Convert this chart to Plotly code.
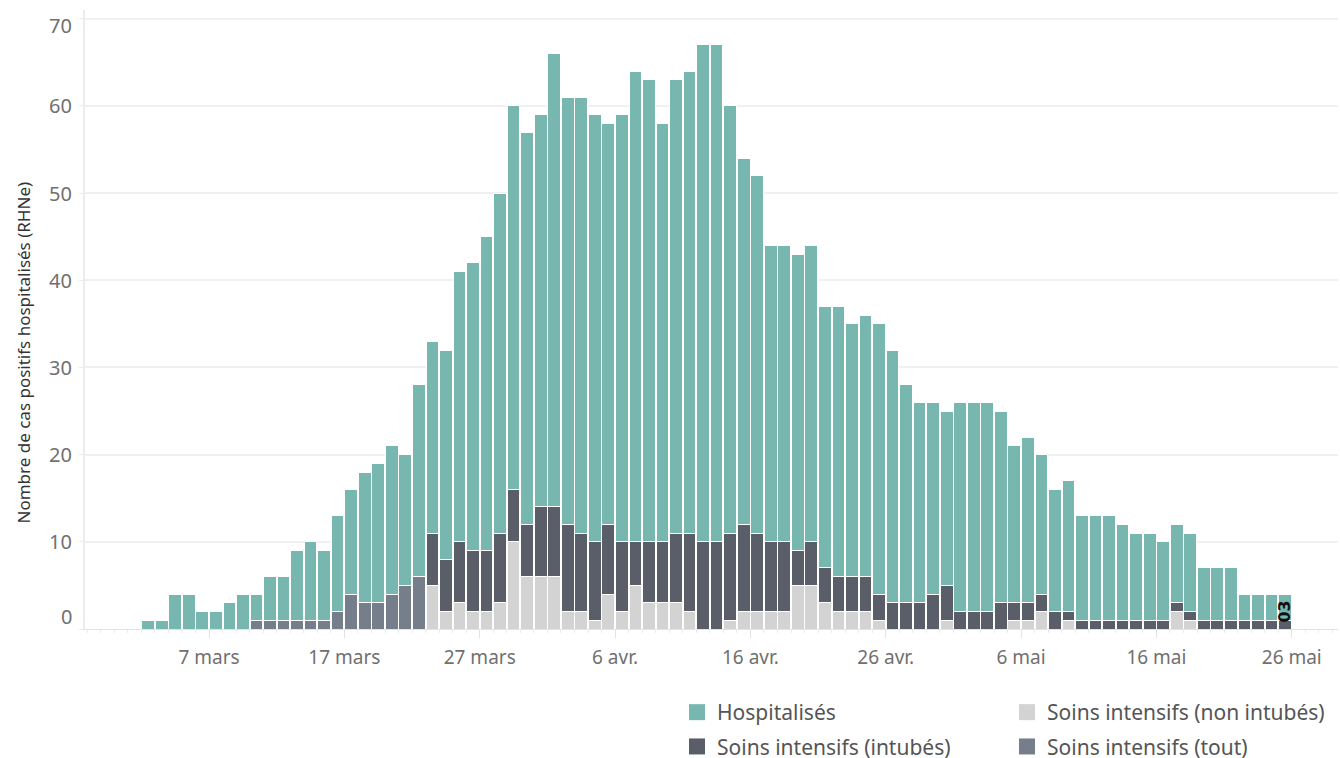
import pandas as pd
import plotly.graph_objects as go

# ---------------- data ----------------
dates = pd.date_range("2020-03-02", "2020-05-25", freq="D")

# total height of each daily stack
total = [1, 1, 4, 4, 2, 2, 3, 4, 4, 6,
         6, 9, 10, 9, 13, 16, 18, 19, 21, 20,
         28, 33, 32, 41, 42, 45, 50, 60, 57, 59,
         66, 61, 61, 59, 58, 59, 64, 63, 58, 63,
         64, 67, 67, 60, 54, 52, 44, 44, 43, 44,
         37, 37, 35, 36, 35, 32, 28, 26, 26, 25,
         26, 26, 26, 25, 21, 22, 20, 16, 17, 13,
         13, 13, 12, 11, 11, 10, 12, 11, 7, 7,
         7, 4, 4, 4, 4]

si_tout = [0, 0, 0, 0, 0, 0, 0, 0, 1, 1,
           1, 1, 1, 1, 2, 4, 3, 3, 4, 5,
           6] + [0] * 64

si_non_intubes = [0] * 21 + [
    5, 2, 3, 2, 2, 3, 10, 6, 6,
    6, 2, 2, 1, 4, 2, 5, 3, 3, 3,
    2, 0, 0, 1, 2, 2, 2, 2, 5, 5,
    3, 2, 2, 2, 1, 0, 0, 0, 0, 1,
    0, 0, 0, 0, 1, 1, 2, 0, 1, 0,
    0, 0, 0, 0, 0, 0, 2, 1, 0, 0,
    0, 0, 0, 0, 0]

si_intubes = [0] * 21 + [
    6, 6, 7, 7, 7, 8, 6, 6, 8,
    8, 10, 9, 9, 8, 8, 5, 7, 7, 8,
    9, 10, 10, 10, 10, 9, 8, 8, 4, 5,
    4, 4, 4, 4, 3, 3, 3, 3, 4, 4,
    2, 2, 2, 3, 2, 2, 2, 2, 1, 1,
    1, 1, 1, 1, 1, 1, 1, 1, 1, 1,
    1, 1, 1, 1, 1]

hospitalises = [t - a - b - c for t, a, b, c in zip(total, si_tout, si_non_intubes, si_intubes)]

tick_dates = ["2020-03-07", "2020-03-17", "2020-03-27", "2020-04-06", "2020-04-16",
              "2020-04-26", "2020-05-06", "2020-05-16", "2020-05-26"]
tick_labels = ["7 mars", "17 mars", "27 mars", "6 avr.", "16 avr.",
               "26 avr.", "6 mai", "16 mai", "26 mai"]
y_ticks = [0, 10, 20, 30, 40, 50, 60, 70]
y_title = "Nombre de cas positifs hospitalisés (RHNe)"

series = [
    ("Soins intensifs (tout)", si_tout, "#767e8b"),
    ("Soins intensifs (non intubés)", si_non_intubes, "#d3d3d3"),
    ("Soins intensifs (intubés)", si_intubes, "#5a5e68"),
    ("Hospitalisés", hospitalises, "#78b7b0"),
]

FONT = "Noto Sans"
TICK_COLOR = "#707070"

fig = go.Figure()
for name, vals, color in series:
    fig.add_trace(go.Bar(
        x=dates, y=vals, name=name,
        xperiod=86400000, xperiodalignment="middle",
        marker=dict(color=color, line=dict(color="white", width=1)),
        showlegend=False, hoverinfo="x+y+name",
    ))

# legend entries (square swatches)
legend_order = [
    ("Hospitalisés", "#78b7b0", "legend", "g1"),
    ("Soins intensifs (intubés)", "#5a5e68", "legend", "g2"),
    ("Soins intensifs (non intubés)", "#d3d3d3", "legend2", "g3"),
    ("Soins intensifs (tout)", "#767e8b", "legend2", "g4"),
]
for name, color, lg, grp in legend_order:
    fig.add_trace(go.Scatter(
        x=[None], y=[None], mode="markers", name=name,
        marker=dict(symbol="square", size=16, color=color),
        legend=lg, legendgroup=grp, showlegend=True,
    ))

# odd value label drawn on the last bar in the reference
fig.add_annotation(
    x=dates[-1] + pd.Timedelta(hours=12), y=total[-1] / 2,
    text="<b>03</b>", textangle=-90, showarrow=False,
    font=dict(family="DejaVu Sans", size=16, color="#111"),
)

# y tick labels (Tableau nudges the extreme labels inside the plot)
for v in y_ticks:
    shift = 13 if v == y_ticks[0] else (-7 if v == y_ticks[-1] else 0)
    fig.add_annotation(
        x=0, xref="paper", y=v, yref="y", text=str(v), showarrow=False,
        xanchor="right", yanchor="middle", xshift=-11, yshift=shift,
        font=dict(family=FONT, size=20, color=TICK_COLOR),
    )

# y axis title (centred a bit lower than the plot area, as in the reference)
fig.add_annotation(
    x=0, xref="paper", y=0.5, yref="paper", text=y_title, showarrow=False,
    textangle=-90, xanchor="center", yanchor="middle", xshift=-62, yshift=-33,
    font=dict(family=FONT, size=17, color="#333333"),
)

legend_common = dict(
    font=dict(family=FONT, size=21, color="#555555"),
    bgcolor="rgba(0,0,0,0)", itemsizing="trace",
    orientation="v", tracegroupgap=4,
    xref="container", yref="container",
    xanchor="left", yanchor="top",
)

fig.update_layout(
    width=1340, height=758,
    margin=dict(l=85, r=2, t=10, b=129, autoexpand=False),
    barmode="stack", bargap=0.06,
    plot_bgcolor="white", paper_bgcolor="white",
    font=dict(family=FONT, color="#666666"),
    legend=dict(x=677 / 1340, y=1 - 692 / 758, **legend_common),
    legend2=dict(x=1007 / 1340, y=1 - 692 / 758, **legend_common),
    xaxis=dict(
        type="date",
        range=["2020-02-26 20:00", "2020-05-29 10:00"],
        tickvals=tick_dates, ticktext=tick_labels, tickangle=0,
        tickfont=dict(family=FONT, size=19, color=TICK_COLOR),
        showgrid=False, showline=True, linecolor="#e3e3e3", linewidth=1,
        ticks="outside", ticklen=8, tickcolor="#e3e3e3",
        ticklabelstandoff=3,
        minor=dict(dtick=86400000, ticks="outside", ticklen=3, tickcolor="#ececec"),
        zeroline=False,
    ),
    yaxis=dict(
        range=[0, 71],
        tickvals=y_ticks, showticklabels=False,
        showgrid=True, gridcolor="#f0f0f0", gridwidth=1.5,
        showline=True, linecolor="#ececec", linewidth=1.5,
        ticks="outside", ticklen=4, tickcolor="#ececec",
        zeroline=False,
    ),
)

fig.write_html("out.html", config={"displayModeBar": False},
               post_script="document.body.style.margin='0';document.body.style.overflow='hidden';")
